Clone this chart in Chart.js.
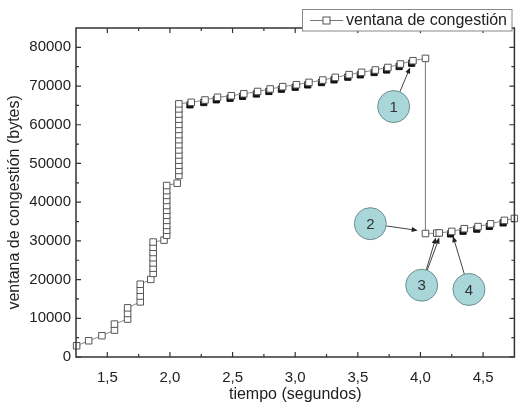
<!DOCTYPE html>
<html>
<head>
<meta charset="utf-8">
<script src="https://cdn.jsdelivr.net/npm/chart.js@4.4.1/dist/chart.umd.min.js"></script>
<style>
    html, body { margin: 0; padding: 0; background: #fff; }
    #wrap { width: 520px; height: 403px; }
</style>
</head>
<body>
<div id="wrap"><canvas id="chart" width="520" height="403"></canvas></div>
<script>
// ventana de congestión (bytes) vs tiempo (s)
const tiempo = [
    1.255, 1.351, 1.457, 1.557, 1.557, 1.662, 1.662, 1.662,
    1.763, 1.763, 1.763, 1.763,
    1.847, 1.866, 1.866, 1.866, 1.866, 1.866, 1.866, 1.866,
    1.953, 1.974, 1.974, 1.974, 1.974, 1.974, 1.974, 1.974, 1.974, 1.974, 1.974, 1.974,
    2.058, 2.071, 2.071, 2.071, 2.071, 2.071, 2.071, 2.071, 2.071, 2.071, 2.071, 2.071, 2.071, 2.071, 2.071, 2.071,
    2.17, 2.28, 2.38, 2.49, 2.59, 2.70, 2.80, 2.90, 3.01, 3.11, 3.22, 3.32, 3.43, 3.53, 3.64, 3.74, 3.84, 3.94, 4.04,
    4.04, 4.13, 4.15, 4.25, 4.35, 4.46, 4.56, 4.67, 4.75
];
const ventana = [
    2900, 4200, 5500, 6950, 8500, 9800, 11250, 12700,
    14250, 15750, 17250, 18800,
    20050, 21600, 22950, 24300, 25650, 27000, 28350, 29700,
    30200, 31450, 32750, 34000, 35300, 36600, 37900, 39150, 40450, 41750, 43000, 44300,
    44900, 46900, 48200, 49550, 50850, 52200, 53500, 54850, 56150, 57450, 58800, 60100, 61450, 62750, 64100, 65400,
    65800, 66400, 67100, 67500, 68000, 68600, 69250, 69850, 70350, 70950, 71550, 72250, 72950, 73550, 74150, 74800, 75700, 76550, 77150,
    31900, 32000, 32050, 32450, 33150, 33700, 34400, 35300, 35800
];
// dark marks peeking out under the open squares
const sombraTiempo = [
    2.16, 2.27, 2.37, 2.48, 2.58, 2.69, 2.79, 2.89, 3.00, 3.10, 3.21, 3.31, 3.42, 3.52, 3.63, 3.73, 3.83, 3.93,
    4.24, 4.34, 4.45, 4.55, 4.66
];
const sombraVentana = [
    65150, 65750, 66450, 66850, 67350, 67950, 68600, 69200, 69700, 70300, 70900, 71600, 72300, 72900, 73500, 74150, 75050, 75900,
    31800, 32500, 33050, 33750, 34650
];

const xTicks = [1.5, 2.0, 2.5, 3.0, 3.5, 4.0, 4.5];
const xTickLabels = ['1,5', '2,0', '2,5', '3,0', '3,5', '4,0', '4,5'];
const yTicks = [0, 10000, 20000, 30000, 40000, 50000, 60000, 70000, 80000];

// numbered call-outs: centre and arrow targets in data units
const llamadas = [
    { n: '1', x: 3.786, y: 64700, to: [[3.917, 74800]] },
    { n: '2', x: 3.600, y: 34450, to: [[3.978, 32700]] },
    { n: '3', x: 4.010, y: 18550, to: [[4.123, 30850], [4.150, 30850]] },
    { n: '4', x: 4.387, y: 17450, to: [[4.260, 31200]] }
];

const FONT = '"Liberation Sans", Arial, sans-serif';

function drawArrow(ctx, x0, y0, x1, y1) {
    const ang = Math.atan2(y1 - y0, x1 - x0);
    ctx.beginPath();
    ctx.moveTo(x0, y0);
    ctx.lineTo(x1 - 4 * Math.cos(ang), y1 - 4 * Math.sin(ang));
    ctx.stroke();
    ctx.beginPath();
    ctx.moveTo(x1, y1);
    ctx.lineTo(x1 - 6 * Math.cos(ang) + 2.5 * Math.sin(ang), y1 - 6 * Math.sin(ang) - 2.5 * Math.cos(ang));
    ctx.lineTo(x1 - 6 * Math.cos(ang) - 2.5 * Math.sin(ang), y1 - 6 * Math.sin(ang) + 2.5 * Math.cos(ang));
    ctx.closePath();
    ctx.fill();
}

const marcoPlugin = {
    id: 'marco',
    afterDraw(chart) {
        const { ctx, chartArea: a, scales: { x, y } } = chart;
        ctx.save();

        // frame and inward ticks
        ctx.strokeStyle = '#333';
        ctx.lineWidth = 1.5;
        ctx.strokeRect(a.left, a.top, a.right - a.left, a.bottom - a.top);
        ctx.lineWidth = 1.2;
        ctx.beginPath();
        xTicks.forEach((v, i) => {
            const px = x.getPixelForValue(v);
            ctx.moveTo(px, a.bottom); ctx.lineTo(px, a.bottom - 5);
            ctx.moveTo(px, a.top); ctx.lineTo(px, a.top + 5);
            [v - 0.25, v + 0.25].forEach(m => {
                if (m <= x.min || m >= x.max) return;
                const pm = x.getPixelForValue(m);
                ctx.moveTo(pm, a.bottom); ctx.lineTo(pm, a.bottom - 3);
                ctx.moveTo(pm, a.top); ctx.lineTo(pm, a.top + 3);
            });
        });
        yTicks.forEach(v => {
            const py = y.getPixelForValue(v);
            ctx.moveTo(a.left, py); ctx.lineTo(a.left + 5, py);
            ctx.moveTo(a.right, py); ctx.lineTo(a.right - 5, py);
            const m = v + 5000;
            if (m < y.max) {
                const pm = y.getPixelForValue(m);
                ctx.moveTo(a.left, pm); ctx.lineTo(a.left + 3, pm);
                ctx.moveTo(a.right, pm); ctx.lineTo(a.right - 3, pm);
            }
        });
        ctx.stroke();

        // y axis title, sitting a little below the middle of the axis as in the original
        ctx.save();
        ctx.translate(15, a.top + (a.bottom - a.top) * 0.53);
        ctx.rotate(-Math.PI / 2);
        ctx.fillStyle = '#222';
        ctx.font = '16px ' + FONT;
        ctx.textAlign = 'center';
        ctx.textBaseline = 'middle';
        ctx.fillText('ventana de congestión (bytes)', 0, 0);
        ctx.restore();

        // call-outs
        ctx.lineWidth = 1;
        const r = 16;
        llamadas.forEach(c => {
            const cx = x.getPixelForValue(c.x);
            const cy = y.getPixelForValue(c.y);
            c.to.forEach(t => {
                const tx = x.getPixelForValue(t[0]);
                const ty = y.getPixelForValue(t[1]);
                const d = Math.hypot(tx - cx, ty - cy);
                ctx.strokeStyle = '#444';
                ctx.fillStyle = '#222';
                drawArrow(ctx, cx + r * (tx - cx) / d, cy + r * (ty - cy) / d, tx, ty);
            });
            ctx.beginPath();
            ctx.arc(cx, cy, r, 0, Math.PI * 2);
            ctx.fillStyle = '#a9d7d9';
            ctx.fill();
            ctx.strokeStyle = '#6d8e8f';
            ctx.stroke();
            ctx.fillStyle = '#333';
            ctx.font = '15px ' + FONT;
            ctx.textAlign = 'center';
            ctx.textBaseline = 'middle';
            ctx.fillText(c.n, cx, cy + 1);
        });

        // legend box
        ctx.fillStyle = '#fff';
        ctx.fillRect(302, 9.5, 210, 21.5);
        ctx.strokeStyle = '#888';
        ctx.lineWidth = 1;
        ctx.strokeRect(302.5, 9.5, 209.5, 21.5);
        ctx.strokeStyle = '#777';
        ctx.beginPath();
        ctx.moveTo(310, 20.5); ctx.lineTo(343, 20.5);
        ctx.stroke();
        ctx.fillStyle = '#fff';
        ctx.fillRect(323, 17, 7, 7);
        ctx.strokeStyle = '#555';
        ctx.strokeRect(323, 17, 7, 7);
        ctx.fillStyle = '#222';
        ctx.font = '16px ' + FONT;
        ctx.textAlign = 'left';
        ctx.textBaseline = 'middle';
        ctx.fillText('ventana de congestión', 346, 21);

        ctx.restore();
    }
};

const ctx = document.getElementById('chart').getContext('2d');
new Chart(ctx, {
    type: 'line',
    data: {
        datasets: [
            {
                label: 'ventana de congestión',
                data: tiempo.map((t, i) => ({ x: t, y: ventana[i] })),
                borderColor: '#888',
                borderWidth: 1,
                pointStyle: 'rect',
                pointRadius: 4.6,
                pointBorderWidth: 1,
                pointBorderColor: '#555',
                pointBackgroundColor: '#fff',
                tension: 0,
                clip: 4
            },
            {
                label: 'sombra',
                data: sombraTiempo.map((t, i) => ({ x: t, y: sombraVentana[i] })),
                showLine: false,
                pointStyle: 'rect',
                pointRadius: 4.4,
                pointBorderWidth: 1,
                pointBorderColor: '#111',
                pointBackgroundColor: '#111',
                clip: 4
            }
        ]
    },
    options: {
        responsive: false,
        animation: false,
        layout: { padding: { top: 28, right: 2, left: 0, bottom: 0 } },
        plugins: { legend: { display: false }, tooltip: { enabled: false } },
        elements: { point: { hoverRadius: 4.6 } },
        scales: {
            x: {
                type: 'linear',
                min: 1.25,
                max: 4.75,
                afterBuildTicks: s => { s.ticks = xTicks.map(v => ({ value: v })); },
                afterFit: s => { s.height = 46; },
                grid: { display: false, drawTicks: false },
                border: { display: false },
                ticks: {
                    padding: 12,
                    color: '#222',
                    font: { family: FONT, size: 15 },
                    maxRotation: 0,
                    callback: v => xTickLabels[xTicks.indexOf(v)]
                },
                title: {
                    display: true,
                    text: 'tiempo (segundos)',
                    color: '#222',
                    font: { family: FONT, size: 16, lineHeight: 1 },
                    padding: { top: 0, bottom: 0 }
                }
            },
            y: {
                min: 0,
                max: 85000,
                afterBuildTicks: s => { s.ticks = yTicks.map(v => ({ value: v })); },
                afterFit: s => { s.width = 76; },
                grid: { display: false, drawTicks: false },
                border: { display: false },
                ticks: {
                    padding: 5,
                    color: '#222',
                    font: { family: FONT, size: 15 },
                    callback: v => String(v)
                },
                title: { display: false }
            }
        }
    },
    plugins: [marcoPlugin]
});
</script>
</body>
</html>
